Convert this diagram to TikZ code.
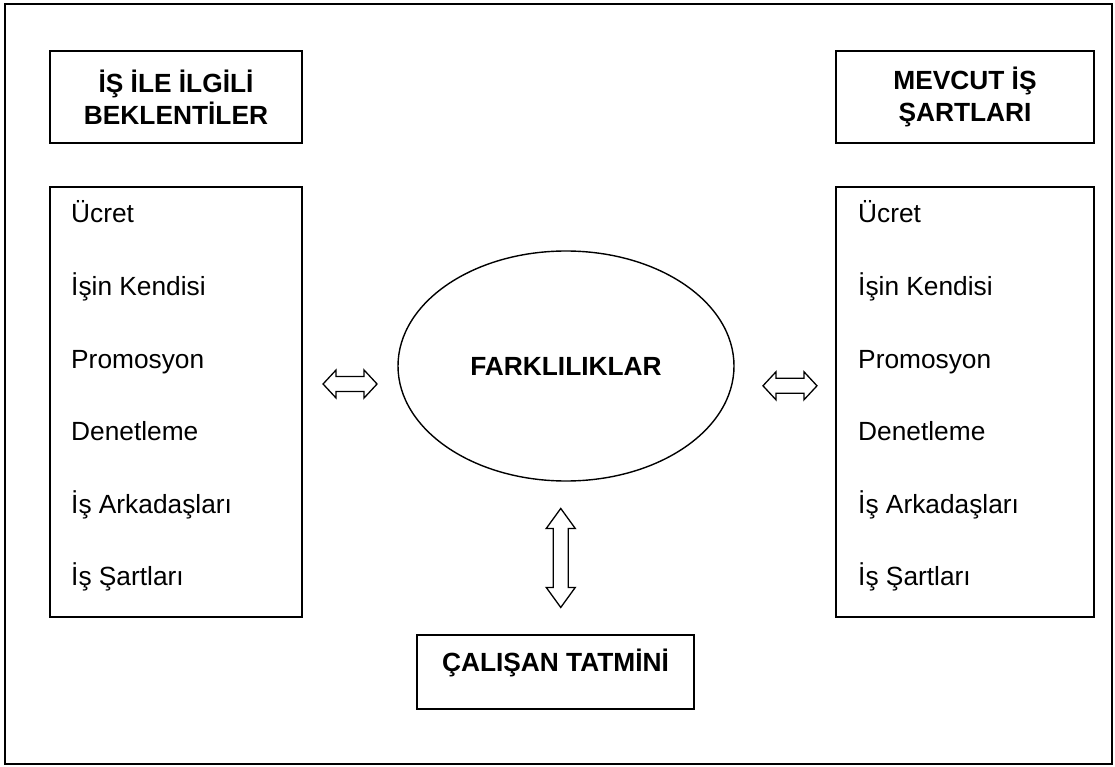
\documentclass[tikz,border=0pt]{standalone}
\usepackage{fontspec}
\setmainfont{Liberation Sans}
\usetikzlibrary{shapes.geometric,calc}
\begin{document}
\begin{tikzpicture}[x=1pt,y=-1pt,
  boxline/.style={draw=black,line width=1.6pt,rectangle,inner sep=0pt},
  headtxt/.style={font=\fontsize{26.3pt}{32pt}\selectfont\bfseries,align=center},
  itemtxt/.style={font=\fontsize{26.3pt}{32pt}\selectfont,anchor=base west,inner sep=0pt},
  blockarrow/.style={draw=black,line width=1.3pt,fill=white,line join=miter},
  pics/hdarrow/.style={code={\draw[blockarrow] (-27,0) -- (-14,-14) -- (-14,-7.5) -- (14,-7.5) -- (14,-14) -- (27,0) -- (14,14) -- (14,7.5) -- (-14,7.5) -- (-14,14) -- cycle;}},
  pics/vdarrow/.style={code={\draw[blockarrow] (0,-49.5) -- (14.5,-29.5) -- (7.5,-29.5) -- (7.5,29.5) -- (14.5,29.5) -- (0,49.5) -- (-14.5,29.5) -- (-7.5,29.5) -- (-7.5,-29.5) -- (-14.5,-29.5) -- cycle;}},
]
\useasboundingbox (0,0) rectangle (1115,767);
\node[draw=black,line width=2.4pt,rectangle,inner sep=0pt,minimum width=1107,minimum height=760] (frame) at (558.5,384) {};

\node[boxline,headtxt,minimum width=252,minimum height=92] (lhead) at (176,97) {İŞ İLE İLGİLİ\\BEKLENTİLER};
\node[boxline,headtxt,minimum width=258,minimum height=92] (rhead) at (965,97) {MEVCUT İŞ\\ŞARTLARI};

\node[boxline,minimum width=252,minimum height=430] (llist) at (176,402) {};
\node[boxline,minimum width=258,minimum height=430] (rlist) at (965,402) {};

\foreach \t [count=\i] in {Ücret,İşin Kendisi,Promosyon,Denetleme,İş Arkadaşları,İş Şartları} {
  \node[itemtxt] (l\i) at (71,{223+72.5*(\i-1)}) {\t};
  \node[itemtxt] (r\i) at (858,{223+72.5*(\i-1)}) {\t};
}

\node[ellipse,draw=black,line width=1.4pt,minimum width=336,minimum height=230,inner sep=0pt,headtxt] (diff) at (566,366) {FARKLILIKLAR};

\node[boxline,minimum width=277,minimum height=74] (sat) at (555.5,672) {};
\node[headtxt] (sattxt) at (555.5,663) {ÇALIŞAN TATMİNİ};

\pic at ($(llist.east)!0.5!(diff.west)$) {hdarrow};
\pic at ($(diff.east)!0.55!(rlist.west)$) {hdarrow};
\pic at ($(diff.south)!0.5!(sat.north)$) {vdarrow};
\end{tikzpicture}
\end{document}
